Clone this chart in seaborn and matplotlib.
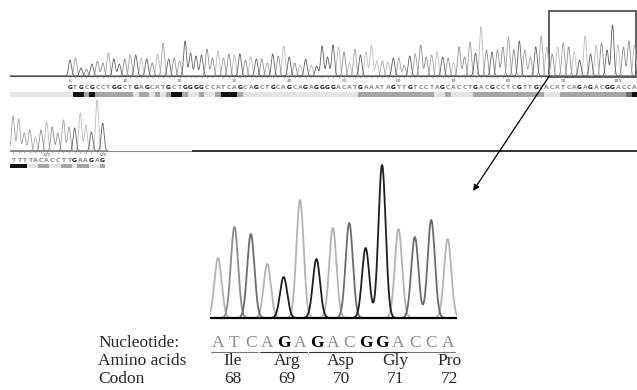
import numpy as np
import pandas as pd
import matplotlib
matplotlib.use('Agg')
import matplotlib.pyplot as plt
import seaborn as sns
from matplotlib.patches import Rectangle, ConnectionPatch

sns.set_theme(style='white')
plt.rcParams['font.family'] = ['Liberation Serif', 'DejaVu Serif']

# first row of the trace, bases 0-103
top_seq = "GTGCGCCTGGCTGAGCATGCTGGGGCCATCAGCAGCTGCAGCAGAGGGGACATGAAATAGTTGTCCTAGCACCTGACGCCTCGTTGTACATCAGAGACGGACCA"
top_heights = [16, 18, 8, 7, 12, 15, 13, 23, 17, 12, 17, 21, 21, 18, 17, 13, 22, 33, 17, 18, 15, 35, 23, 20, 21, 27, 18, 25, 18, 22, 21, 22, 16, 19, 17, 17,
               13, 22, 20, 30, 19, 13, 11, 17, 11, 10, 30, 19, 31, 29, 24, 13, 27, 21, 24, 31, 15, 15, 14, 18, 18, 11, 20, 22, 31, 19, 21, 24, 19, 18, 13,
               29, 19, 34, 23, 49, 26, 24, 26, 29, 39, 26, 35, 26, 19, 29, 40, 29, 22, 29, 33, 29, 24, 16, 40, 22, 31, 33, 26, 51, 31, 29, 35, 31]
# quality bar level per base (0 light .. 3 black)
top_quality = ("0 33 1 3 1111111 0 11 0 1 0 1 33 1 00 1 00 1 333 1 000000000000000000000 "
               "11111111111111 00 1 0000 1111111111111 000 111111111111 2 3").replace(' ', '')
top_ticks = [0, 10, 20, 30, 40, 50, 60, 70, 80, 90, 100]
top_tick_labels = ['6', '10', '20', '30', '40', '50', '60', '70', '80', '90', '100']

# second row, bases 104-120
mid_seq = "TTTTACACCTTGAAGAG"
mid_heights = [35, 32, 18, 21, 14, 21, 29, 24, 18, 31, 24, 23, 38, 26, 19, 51, 28]
mid_quality = "33300110011011001"
mid_ticks = [110, 120]

# enlarged part (codons 68-72)
zoom_seq = "ATCAGAGACGGACCA"
zoom_heights = [60, 91, 84, 54, 41, 118, 59, 90, 95, 70, 153, 89, 81, 98, 79]
amino_acids = ['Ile', 'Arg', 'Asp', 'Gly', 'Pro']
codons = [68, 69, 70, 71, 72]

base_colors = {'A': '#b4b4b4', 'T': '#8c8c8c', 'C': '#6c6c6c', 'G': '#1e1e1e'}
top_colors = {'A': '#bcbcbc', 'T': '#a0a0a0', 'C': '#8e8e8e', 'G': '#606060'}
qual_colors = {'0': '#e4e4e4', '1': '#a6a6a6', '2': '#6e6e6e', '3': '#111111'}


def trace_frame(seq, heights, start, grid, sigma):
    rows = []
    pos = np.arange(len(seq)) + start
    for b in 'ATCG':
        sig = np.zeros_like(grid)
        for p, s, h in zip(pos, seq, heights):
            if s == b:
                sig += h * np.exp(-(grid - p) ** 2 / (2 * sigma ** 2))
        rows.append(pd.DataFrame({'x': grid, 'signal': sig, 'base': b}))
    return pd.concat(rows, ignore_index=True)


def px_rect(x0, y0, x1, y1):
    return [x0 / 637, 1 - y1 / 390, (x1 - x0) / 637, (y1 - y0) / 390]


fig = plt.figure(figsize=(6.37, 3.9), dpi=100)

# ---- first row
ax_top = fig.add_axes(px_rect(10, 10, 637, 100))
ax_top.axis('off')
ax_top.set_xlim(-10.95, 103.47)
ax_top.set_ylim(-24, 66)
df_top = trace_frame(top_seq, top_heights, 0, np.arange(-11, 104, 0.04), 0.26)
sns.lineplot(data=df_top, x='x', y='signal', hue='base', hue_order=['A', 'T', 'C', 'G'],
             palette=top_colors, estimator=None, sort=False, legend=False, linewidth=0.6, ax=ax_top)
ax_top.axhline(0, color='#555555', lw=0.9)
ax_top.vlines(np.arange(len(top_seq)), -2, 0, color='#888888', lw=0.4)
for t, lab in zip(top_ticks, top_tick_labels):
    ax_top.text(t, -4.5, lab, fontsize=3.2, color='#555555', ha='center', va='center', family='DejaVu Sans')
for i, s in enumerate(top_seq):
    ax_top.text(i, -11.5, s, fontsize=4.3, ha='center', va='center', family='DejaVu Sans', weight='bold',
                color='#111111' if s == 'G' else '#8a8a8a')
ax_top.axhspan(-21, -16, color='#e6e6e6', lw=0)
ax_top.bar(np.arange(len(top_seq)), 5, bottom=-21, width=1.0,
           color=[qual_colors[q] for q in top_quality], lw=0)
ax_top.add_patch(Rectangle((87.4, -0.5), 15.9, 65.5, fill=False, ec='#444444', lw=1.2, clip_on=False))

# ---- second row
ax_mid = fig.add_axes(px_rect(10, 90, 637, 172))
ax_mid.axis('off')
ax_mid.set_xlim(103.46, 215.4)
ax_mid.set_ylim(-21, 61)
df_mid = trace_frame(mid_seq, mid_heights, 104, np.arange(103.4, 121, 0.04), 0.26)
sns.lineplot(data=df_mid, x='x', y='signal', hue='base', hue_order=['A', 'T', 'C', 'G'],
             palette=top_colors, estimator=None, sort=False, legend=False, linewidth=0.6, ax=ax_mid)
ax_mid.hlines(0, 103.46, 136, color='#888888', lw=0.8)
ax_mid.hlines(0, 136, 215.4, color='#222222', lw=1.3)
ax_mid.vlines(np.arange(104, 121), -2, 0, color='#888888', lw=0.4)
for t in mid_ticks:
    ax_mid.text(t, -4.5, str(t), fontsize=3.2, color='#555555', ha='center', va='center', family='DejaVu Sans')
for i, s in enumerate(mid_seq):
    ax_mid.text(104 + i, -9.5, s, fontsize=4.5, ha='center', va='center', family='DejaVu Sans', weight='bold',
                color='#111111' if s == 'G' else '#8a8a8a')
ax_mid.bar(np.arange(104, 104 + len(mid_seq)), 4, bottom=-17, width=1.0,
           color=[qual_colors[q] for q in mid_quality], lw=0)

# ---- enlarged trace
ax_bot = fig.add_axes(px_rect(210, 155, 457, 320))
ax_bot.axis('off')
ax_bot.set_xlim(-0.49, 14.57)
ax_bot.set_ylim(-2, 163)
df_bot = trace_frame(zoom_seq, zoom_heights, 0, np.arange(-1, 16, 0.01), 0.22)
sns.lineplot(data=df_bot, x='x', y='signal', hue='base', hue_order=['A', 'T', 'C', 'G'],
             palette=base_colors, estimator=None, sort=False, legend=False, linewidth=1.3, ax=ax_bot)
ax_bot.axhline(0, color='black', lw=1.6)

# rows of text under the enlarged trace
fs = 12.5
lab_x = (98 - 218) / 16.4
ax_bot.text(lab_x, -25, 'Nucleotide:', fontsize=fs, ha='left', va='center')
ax_bot.text(lab_x, -43, 'Amino acids', fontsize=fs, ha='left', va='center')
ax_bot.text(lab_x, -61, 'Codon', fontsize=fs, ha='left', va='center')
for i, s in enumerate(zoom_seq):
    strong = s == 'G' and 1 <= i // 3 <= 3
    ax_bot.text(i, -25, s, fontsize=fs, ha='center', va='center',
                color='black' if strong else '#8c8c8c', weight='bold' if strong else 'normal')
for k in range(5):
    ax_bot.plot([3 * k - 0.45, 3 * k + 2.45], [-33.5, -33.5], color='#777777' if k in (0, 4) else '#333333',
                lw=0.8, clip_on=False)
    ax_bot.text(0.9 + 3.3 * k, -43, amino_acids[k], fontsize=fs, ha='center', va='center')
    ax_bot.text(0.9 + 3.3 * k, -61, str(codons[k]), fontsize=fs, ha='center', va='center')

# arrow from the boxed region down to the enlargement
arrow = ConnectionPatch(xyA=(87.4, -0.5), coordsA=ax_top.transData,
                        xyB=(15.55, 127), coordsB=ax_bot.transData,
                        arrowstyle='-|>', color='black', lw=0.9, mutation_scale=9)
fig.add_artist(arrow)

fig.savefig('out.png', dpi=100)
